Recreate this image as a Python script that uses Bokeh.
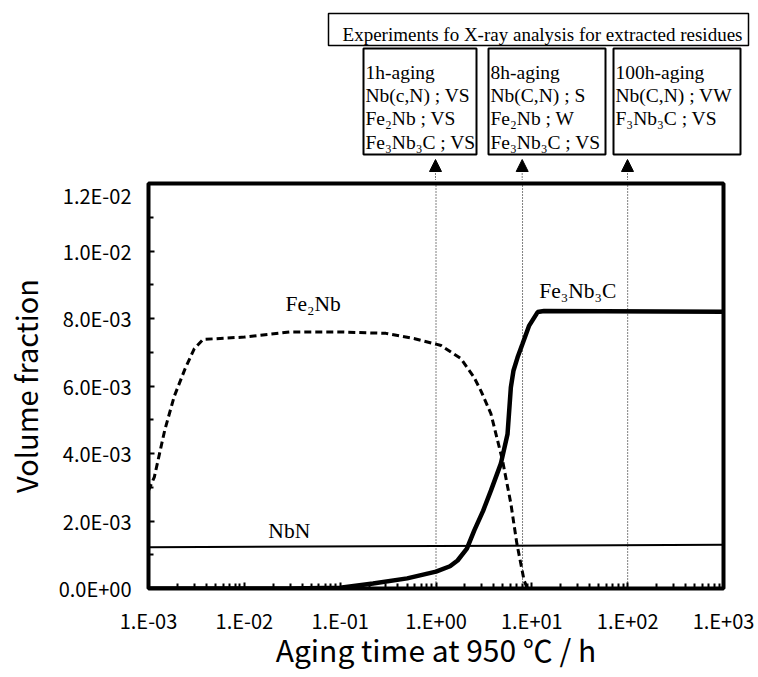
from bokeh.plotting import figure
from bokeh.layouts import column
from bokeh.models import FixedTicker, Arrow, NormalHead, ColumnDataSource
from bokeh.core.properties import value
from bokeh.embed import file_html
from bokeh.resources import INLINE

# ---------------- data ----------------
fe2nb_time = [0.001, 0.00115, 0.00148, 0.00186, 0.0024, 0.003, 0.0037, 0.01, 0.03,
              0.1, 0.3, 0.6, 1.0, 1.13, 1.82, 2.49, 2.95, 3.74, 4.94, 6.04, 6.98, 8.3, 9.0]
fe2nb_frac = [0.0029, 0.0033, 0.0047, 0.0057, 0.0065, 0.0071, 0.00738, 0.00745, 0.0076,
              0.0076, 0.00756, 0.0074, 0.00724, 0.0072, 0.00681, 0.00626, 0.00585, 0.00518,
              0.0038, 0.00252, 0.00133, 0.00024, 0.0]

fe3nb3c_time = [0.001, 0.03, 0.1, 0.22, 0.5, 1.0, 1.4, 1.68, 2.1, 2.51, 3.1, 3.74, 4.75,
                5.58, 6.04, 6.44, 7.1, 8.0, 9.38, 11.5, 13.4, 1000.0]
fe3nb3c_frac = [0.0, 0.0, 0.00002, 0.00015, 0.0003, 0.0005, 0.00066, 0.00083, 0.00118,
                0.00172, 0.0023, 0.0029, 0.0037, 0.00458, 0.00596, 0.00646, 0.00685,
                0.00725, 0.00779, 0.00819, 0.00822, 0.0082]

nbn_time = [0.001, 1.0, 1000.0]
nbn_frac = [0.00122, 0.00126, 0.0013]

xray_times = [1.0, 8.0, 100.0]
xray_titles = ["1h-aging", "8h-aging", "100h-aging"]
xray_results = [
    ["Nb(c,N) ; VS", "Fe\u2082Nb ; VS", "Fe\u2083Nb\u2083C ; VS"],
    ["Nb(C,N) ; S", "Fe\u2082Nb ; W", "Fe\u2083Nb\u2083C ; VS"],
    ["Nb(C,N) ; VW", "F\u2083Nb\u2083C ; VS"],
]
xray_header = "Experiments fo X-ray analysis for extracted residues"

curve_names = ["Fe\u2082Nb", "NbN", "Fe\u2083Nb\u2083C"]

x_tick_values = [0.001, 0.01, 0.1, 1.0, 10.0, 100.0, 1000.0]
x_tick_labels = ["1.E-03", "1.E-02", "1.E-01", "1.E+00", "1.E+01", "1.E+02", "1.E+03"]
y_tick_values = [0.0, 0.002, 0.004, 0.006, 0.008, 0.01, 0.012]
y_tick_labels = ["0.0E+00", "2.0E-03", "4.0E-03", "6.0E-03", "8.0E-03", "1.0E-02", "1.2E-02"]

# ---------------- layout helpers (page pixel -> data) ----------------
FL, FR, FT, FB = 147, 723, 183, 588   # plot frame on the page


def dx(px):
    return 10 ** (-3 + 6 * (px - FL) / (FR - FL))


def dy(py):
    return 0.012 * (FB - py) / (FB - FT)


SANS = "Noto Sans CJK JP"
SERIF = "Liberation Serif"
W = 756
TOP_H = 180
MAIN_H = 494

# ---------------- top panel: X-ray experiment annotations ----------------
top = figure(width=W, height=TOP_H, x_axis_type="log", x_range=(dx(0), dx(W)),
             y_range=(TOP_H, 0), output_backend="svg", toolbar_location=None,
             min_border=0, frame_align=False)
top.axis.visible = False
top.grid.visible = False
top.outline_line_color = None
top.background_fill_color = "white"
top.border_fill_color = "white"

top.quad(left=[dx(328)], right=[dx(748)], top=[13], bottom=[45], fill_color="white",
         line_color="black", line_width=1.5)
top.text(x=[dx(542)], y=[34], text=[xray_header], text_font=value(SERIF),
         text_font_size="19px", text_align="center", text_baseline="alphabetic",
         text_color="black")

box_edges = [(363, 476), (488, 605), (613, 740)]
top.quad(left=[dx(a) for a, b in box_edges], right=[dx(b) for a, b in box_edges],
         top=[48] * 3, bottom=[154] * 3, fill_color="white", line_color="black",
         line_width=2)
tx, ty, tt = [], [], []
for (bl, br), title, rows in zip(box_edges, xray_titles, xray_results):
    for i, line in enumerate([title] + rows):
        tx.append(dx(bl + 2))
        ty.append(71.5 + 23.4 * i)
        tt.append(line)
top.text(x=tx, y=ty, text=tt, text_font=value(SERIF), text_font_size="19.5px",
         text_align="left", text_baseline="alphabetic", text_color="black")

arrow_src = ColumnDataSource(dict(x=xray_times, y0=[TOP_H] * 3, y1=[159] * 3))
top.add_layout(Arrow(source=arrow_src, x_start="x", y_start="y0", x_end="x", y_end="y1",
                     line_color="black", line_width=1, line_dash="1 2",
                     end=NormalHead(size=12, fill_color="black", line_color="black",
                                    line_width=1)))

# ---------------- main chart ----------------
p = figure(width=W, height=MAIN_H, x_axis_type="log", x_range=(0.001, 1000.0),
           y_range=(0.0, 0.012), output_backend="svg", toolbar_location=None,
           min_border_left=FL, min_border_right=W - FR,
           min_border_top=FT - TOP_H, min_border_bottom=TOP_H + MAIN_H - FB,
           frame_align=False)
p.background_fill_color = "white"
p.border_fill_color = "white"
p.outline_line_color = "black"
p.outline_line_width = 4
p.grid.visible = False

p.xaxis.ticker = FixedTicker(
    ticks=x_tick_values,
    minor_ticks=[m * 10.0 ** e for e in range(-3, 3) for m in range(2, 10)])
p.xaxis.major_label_overrides = dict(zip(x_tick_values, x_tick_labels))
p.yaxis.ticker = FixedTicker(ticks=y_tick_values,
                             minor_ticks=[0.001, 0.003, 0.005, 0.007, 0.009, 0.011])
p.yaxis.major_label_overrides = dict(zip(y_tick_values, y_tick_labels))

for ax in (p.xaxis[0], p.yaxis[0]):
    ax.axis_line_color = None
    ax.major_tick_out = 0
    ax.major_tick_in = 6
    ax.minor_tick_out = 0
    ax.minor_tick_in = 5
    ax.major_tick_line_width = 2
    ax.minor_tick_line_width = 2
    ax.major_tick_line_color = "black"
    ax.minor_tick_line_color = "black"
    ax.major_label_text_font = SANS
    ax.major_label_text_font_size = "20px"
    ax.major_label_text_color = "black"
    ax.axis_label_text_font = SANS
    ax.axis_label_text_font_style = "normal"
    ax.axis_label_text_color = "black"

p.xaxis.axis_label = "Aging time at 950 \u2103 / h"
p.yaxis.axis_label = "Volume fraction"
p.xaxis.axis_label_text_font_size = "30px"
p.yaxis.axis_label_text_font_size = "29px"
p.xaxis.major_label_standoff = 17
p.yaxis.major_label_standoff = 17
p.xaxis.axis_label_standoff = -11
p.yaxis.axis_label_standoff = 10

# dotted guide lines at the X-ray sampling times
p.segment(x0=xray_times, y0=[0.0] * 3, x1=xray_times, y1=[0.012] * 3,
          line_color="black", line_width=1, line_dash="1 2")

# curves
p.line(nbn_time, nbn_frac, line_color="black", line_width=2)
p.line(fe2nb_time, fe2nb_frac, line_color="black", line_width=3, line_dash="7 4")
p.line(fe3nb3c_time, fe3nb3c_frac, line_color="black", line_width=4.5)

# curve labels
p.text(x=[dx(312), dx(288), dx(577)], y=[dy(303), dy(530), dy(290)], text=curve_names,
       text_font=value(SERIF), text_font_size="21.5px", text_align="center",
       text_baseline="middle", text_color="black")

open("out.html", "w").write(file_html(column(top, p, spacing=0), INLINE))
